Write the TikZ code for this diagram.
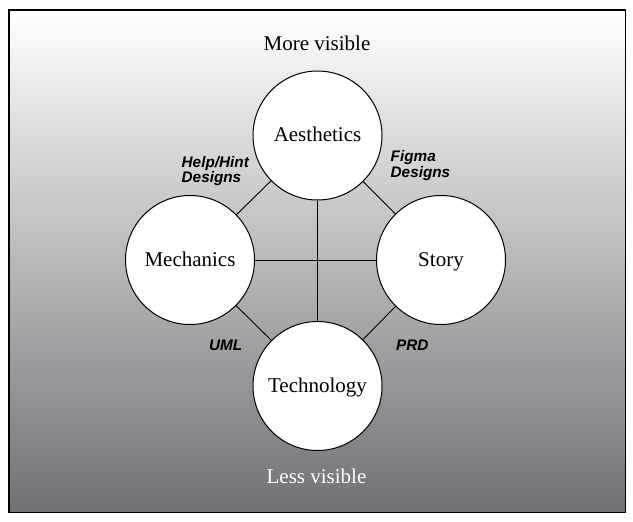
\documentclass[tikz,border=0pt]{standalone}
\usepackage{fontspec}
\setmainfont{Liberation Serif}
\newfontfamily\lblfont{Liberation Sans}
\definecolor{bgbot}{RGB}{112,113,117}
\begin{document}
\begin{tikzpicture}[x=1pt,y=-1pt,
  bubble/.style={circle, draw, line width=1pt, fill=white, minimum size=129pt, inner sep=0pt,
    font=\fontsize{21}{25}\selectfont, text height=12pt, text depth=0pt},
  link/.style={line width=0.9pt},
  big/.style={font=\fontsize{21}{25}\selectfont, inner sep=0pt, anchor=base},
  lbl/.style={font=\lblfont\bfseries\itshape\fontsize{15.3}{14}\selectfont, inner sep=0pt, anchor=base west, align=left}]
\useasboundingbox (0,0) rectangle (633,522);
\shade[top color=white, bottom color=bgbot] (9,10) rectangle (625.5,512.5);
\draw[line width=1.3pt] (9,10) rectangle (625.5,512.5);

\node[bubble] (A) at (317.5,135.5) {Aesthetics};
\node[bubble] (M) at (190,260) {Mechanics};
\node[bubble] (S) at (441,260) {Story};
\node[bubble] (T) at (317.5,386) {Technology};

\draw[link] (A) -- (M);
\draw[link] (A) -- (S);
\draw[link] (M) -- (T);
\draw[link] (S) -- (T);
\draw[link] (M) -- (S);
\draw[link] (A) -- (T);

\node[big] (mv) at (317,50.5) {More visible};
\node[big, text=white] (lv) at (316.5,483) {Less visible};

\node[lbl] (hh) at (181.5,182.5) {Help/Hint\\Designs};
\node[lbl] (fg) at (390.5,177) {Figma\\Designs};
\node[lbl] (uml) at (209,350) {UML};
\node[lbl] (prd) at (396,350) {PRD};
\end{tikzpicture}
\end{document}
